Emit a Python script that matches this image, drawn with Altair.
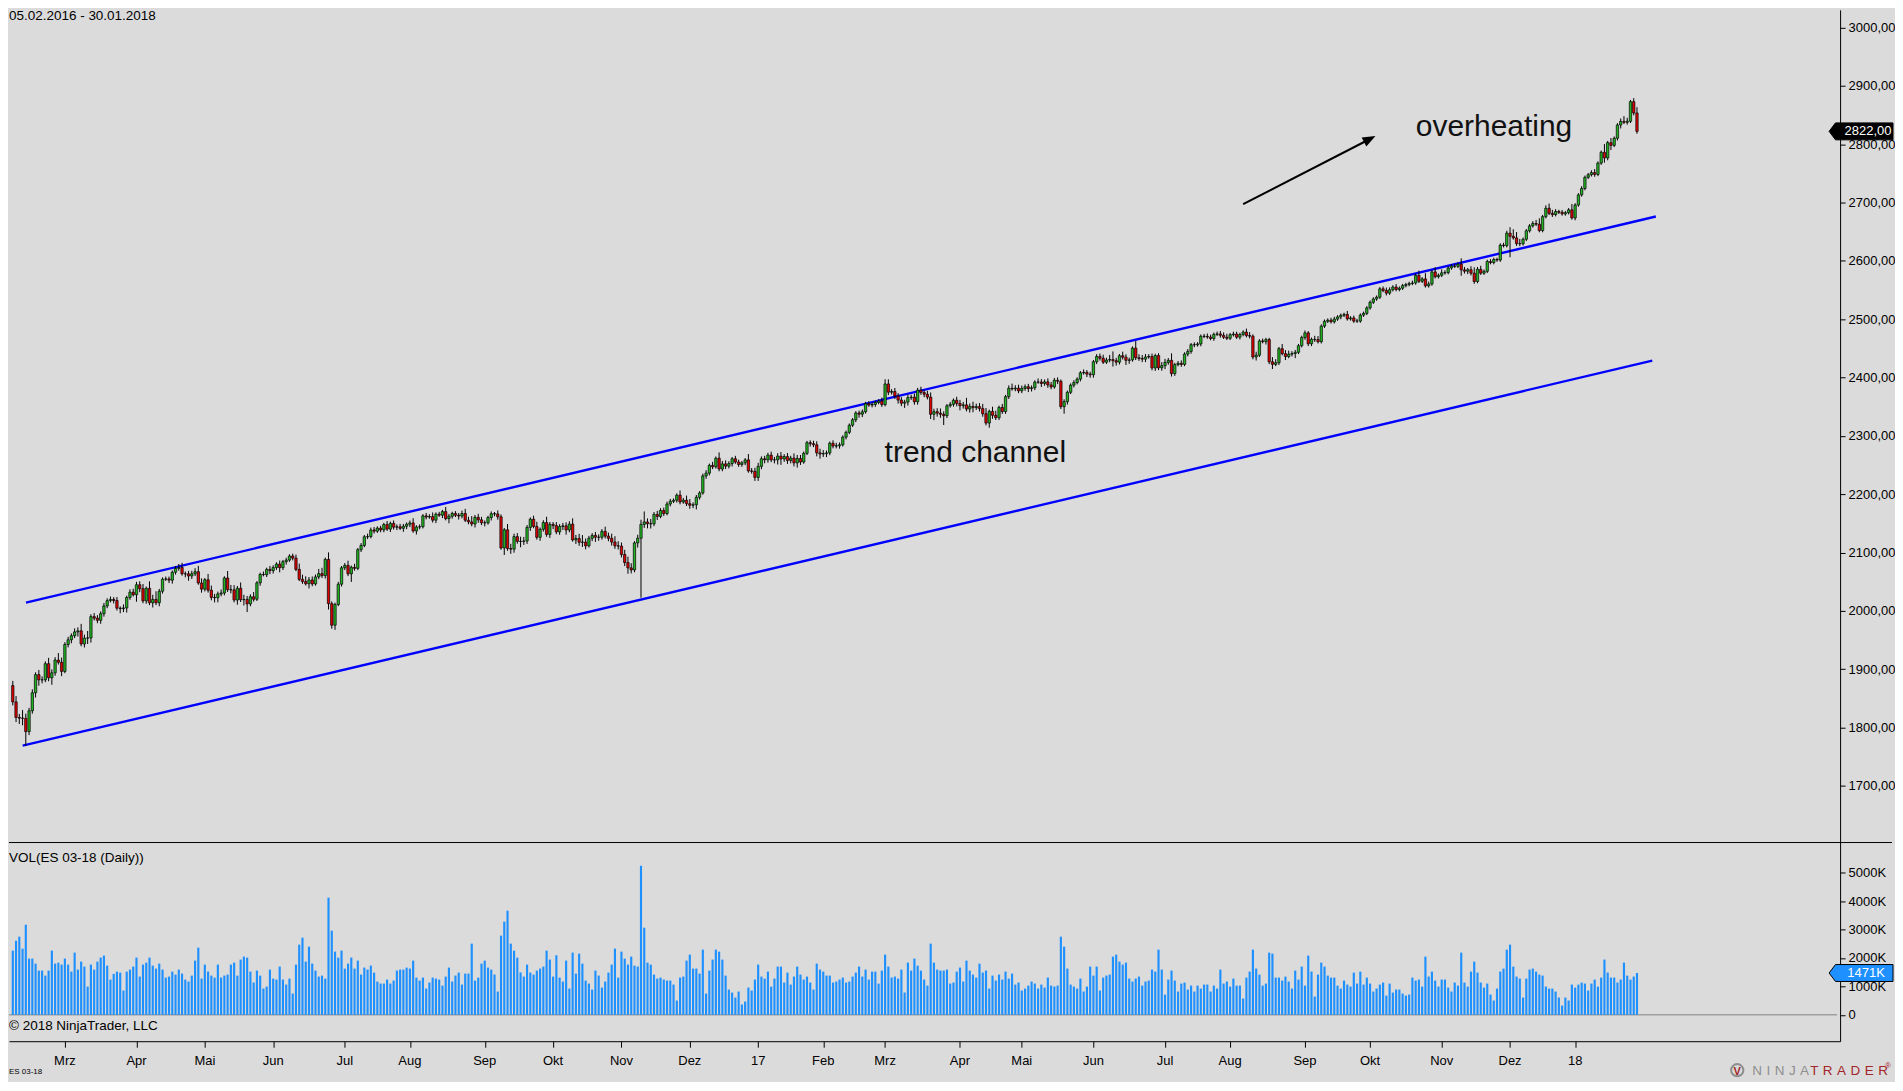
import altair as alt
import pandas as pd

# ---------------- texts ----------------
date_range_text = "05.02.2016 - 30.01.2018"
vol_title = "VOL(ES 03-18 (Daily))"
copyright_text = "\u00a9 2018 NinjaTrader, LLC"
instrument_text = "ES 03-18"
note_hot = "overheating"
note_channel = "trend channel"

# ---------------- x axis (bar index of first session of month) ----------------
month_idx = [16, 38, 59, 80, 102, 122, 145, 166, 187, 208, 229, 249, 268, 291, 310, 332, 354, 374, 397, 417, 439, 460, 480]
month_lbl = ["Mrz", "Apr", "Mai", "Jun", "Jul", "Aug", "Sep", "Okt", "Nov", "Dez", "17", "Feb", "Mrz", "Apr", "Mai", "Jun", "Jul", "Aug", "Sep", "Okt", "Nov", "Dez", "18"]

price_ticks = [1700, 1800, 1900, 2000, 2100, 2200, 2300, 2400, 2500, 2600, 2700, 2800, 2900, 3000]
vol_ticks = [0, 1000, 2000, 3000, 4000, 5000]

# ---------------- daily closes, per month ----------------
first_open = 1872.0
c_2016_02 = [1844.0, 1817.4, 1816.2, 1815.9, 1793.1, 1828.8, 1859.6, 1890.8, 1881.8, 1881.8, 1909.5, 1885.3, 1893.8, 1915.7, 1912.0, 1896.2]
c_2016_03 = [1942.4, 1950.5, 1957.4, 1964.0, 1965.8, 1943.3, 1953.3, 1953.6, 1990.2, 1987.6, 1983.9, 1995.2, 2008.6, 2017.6, 2019.6, 2017.8, 2004.7, 2003.9, 2005.1, 2023.0, 2032.0, 2027.7]
c_2016_04 = [2044.8, 2038.1, 2017.2, 2038.7, 2013.9, 2019.6, 2014.0, 2033.7, 2054.4, 2054.8, 2052.7, 2066.3, 2072.8, 2074.4, 2063.5, 2063.6, 2059.8, 2063.7, 2067.2, 2047.8, 2037.3]
c_2016_05 = [2053.4, 2035.4, 2023.1, 2022.6, 2029.1, 2030.7, 2056.4, 2036.5, 2036.1, 2018.6, 2038.7, 2019.2, 2019.6, 2012.0, 2024.3, 2020.0, 2048.1, 2062.5, 2062.1, 2071.1, 2069.0]
c_2016_06 = [2074.3, 2080.3, 2074.1, 2084.4, 2087.1, 2094.1, 2090.5, 2071.1, 2054.1, 2050.3, 2046.5, 2053.0, 2046.2, 2058.3, 2063.9, 2060.5, 2088.3, 2012.4, 1975.5, 2011.1, 2045.8, 2073.9]
c_2016_07 = [2078.0, 2063.6, 2074.7, 2072.9, 2104.9, 2112.2, 2127.1, 2127.4, 2138.8, 2136.7, 2141.9, 2138.8, 2148.0, 2140.2, 2150.0, 2143.5, 2144.2, 2141.6, 2145.1, 2148.6]
c_2016_08 = [2150.8, 2137.0, 2143.8, 2144.3, 2162.9, 2160.9, 2161.7, 2155.5, 2165.8, 2164.1, 2170.2, 2158.2, 2162.2, 2167.0, 2163.9, 2162.6, 2166.9, 2155.4, 2152.5, 2149.0, 2160.4, 2156.1, 2151.0]
c_2016_09 = [2150.9, 2160.0, 2166.5, 2166.2, 2161.3, 2107.8, 2139.0, 2107.0, 2105.8, 2127.3, 2119.2, 2119.1, 2119.8, 2143.1, 2157.2, 2144.7, 2126.1, 2139.9, 2151.4, 2131.1, 2148.3]
c_2016_10 = [2146.2, 2135.5, 2144.7, 2145.8, 2138.7, 2148.7, 2121.7, 2124.2, 2117.6, 2118.0, 2111.5, 2124.6, 2129.3, 2126.3, 2126.2, 2136.3, 2128.2, 2124.4, 2118.0, 2111.4, 2111.2]
c_2016_11 = [2096.7, 2082.9, 2073.7, 2070.2, 2116.5, 2124.6, 2148.3, 2152.5, 2149.5, 2149.2, 2165.4, 2161.9, 2172.1, 2166.9, 2183.2, 2187.9, 2189.7, 2198.4, 2186.7, 2189.7, 2183.8]
c_2016_12 = [2181.1, 2182.0, 2194.7, 2202.2, 2231.4, 2236.2, 2249.5, 2247.0, 2261.7, 2243.3, 2252.0, 2248.1, 2252.5, 2260.8, 2255.2, 2251.0, 2253.8, 2258.9, 2239.9, 2239.3, 2228.8]
c_2017_01 = [2247.8, 2260.8, 2259.0, 2267.0, 2258.9, 2258.9, 2265.3, 2260.4, 2264.6, 2257.9, 2261.9, 2253.7, 2261.3, 2255.2, 2270.1, 2288.4, 2286.7, 2284.7, 2270.9, 2268.9]
c_2017_02 = [2269.6, 2270.9, 2287.4, 2282.6, 2283.1, 2284.7, 2297.9, 2306.1, 2318.3, 2327.6, 2339.3, 2337.2, 2341.2, 2355.4, 2352.8, 2353.8, 2357.3, 2359.8, 2353.6]
c_2017_03 = [2389.0, 2374.9, 2376.1, 2368.3, 2361.4, 2356.0, 2357.9, 2365.6, 2366.5, 2358.5, 2378.3, 2374.4, 2371.3, 2366.5, 2337.0, 2341.5, 2339.0, 2337.0, 2334.6, 2351.6, 2354.1, 2361.1, 2355.7]
c_2017_04 = [2351.8, 2353.2, 2346.0, 2350.5, 2348.5, 2350.2, 2346.8, 2337.9, 2322.0, 2342.0, 2335.2, 2331.2, 2348.8, 2341.7, 2367.2, 2381.6, 2380.5, 2381.8, 2377.2]
c_2017_05 = [2381.3, 2384.2, 2381.1, 2382.5, 2392.3, 2392.4, 2389.9, 2392.6, 2387.4, 2383.9, 2395.3, 2393.7, 2350.0, 2358.7, 2374.7, 2387.0, 2391.4, 2397.4, 2408.1, 2408.8, 2405.9, 2404.8]
c_2017_06 = [2427.1, 2436.1, 2433.1, 2426.3, 2430.1, 2430.8, 2428.8, 2426.4, 2437.4, 2434.9, 2429.5, 2430.2, 2450.5, 2434.0, 2432.6, 2431.5, 2435.3, 2436.1, 2416.4, 2437.7, 2416.7, 2420.4]
c_2017_07 = [2426.0, 2429.5, 2406.8, 2422.2, 2424.4, 2422.5, 2440.3, 2444.8, 2456.3, 2456.1, 2457.6, 2470.8, 2470.5, 2469.5, 2466.9, 2474.1, 2474.8, 2472.4, 2469.1, 2467.3]
c_2017_08 = [2473.4, 2474.6, 2469.2, 2473.8, 2477.9, 2471.9, 2471.0, 2435.2, 2438.3, 2462.8, 2461.6, 2465.1, 2427.0, 2422.6, 2425.4, 2449.5, 2441.0, 2436.0, 2440.1, 2441.2, 2443.3, 2454.6, 2468.7]
c_2017_09 = [2476.6, 2457.9, 2465.5, 2465.1, 2461.4, 2488.1, 2496.5, 2498.4, 2495.6, 2500.2, 2503.9, 2506.7, 2508.2, 2500.6, 2502.2, 2496.7, 2496.8, 2507.0, 2510.1, 2519.4]
c_2017_10 = [2529.1, 2534.6, 2537.7, 2552.1, 2549.3, 2544.7, 2550.6, 2555.2, 2550.9, 2553.2, 2557.6, 2559.4, 2561.3, 2562.1, 2575.2, 2565.0, 2569.1, 2557.2, 2560.4, 2581.1, 2572.8, 2575.3]
c_2017_11 = [2579.4, 2579.9, 2587.8, 2591.1, 2590.6, 2594.4, 2584.6, 2582.3, 2584.8, 2578.9, 2564.6, 2585.6, 2578.9, 2582.1, 2599.0, 2597.1, 2602.4, 2601.4, 2627.0, 2626.1, 2647.6]
c_2017_12 = [2642.2, 2639.4, 2629.6, 2629.3, 2637.0, 2651.5, 2660.0, 2664.1, 2662.9, 2652.0, 2675.8, 2690.2, 2681.5, 2679.3, 2684.6, 2683.3, 2680.5, 2682.6, 2687.5, 2673.6]
c_2018_01 = [2695.8, 2713.1, 2724.0, 2743.2, 2747.7, 2751.3, 2748.2, 2767.6, 2786.2, 2776.4, 2802.6, 2798.0, 2810.3, 2833.0, 2839.1, 2837.5, 2839.3, 2872.9, 2853.5, 2822.0]

# ---------------- upper wick (points above body), per month ----------------
h_2016_02 = [8, 10, 6, 14, 8, 5, 6, 4, 8, 6, 4, 10, 6, 5, 12, 8]
h_2016_03 = [4, 5, 4, 6, 6, 12, 6, 12, 4, 6, 5, 4, 5, 4, 5, 4, 6, 3, 6, 3, 5, 6]
h_2016_04 = [5, 6, 8, 3, 12, 8, 14, 4, 3, 4, 4, 3, 4, 6, 8, 4, 5, 5, 6, 10, 8]
h_2016_05 = [3, 10, 8, 6, 4, 6, 3, 12, 8, 8, 4, 10, 8, 6, 4, 8, 3, 3, 5, 3, 6]
h_2016_06 = [4, 3, 6, 3, 4, 3, 4, 6, 10, 8, 9, 5, 6, 4, 8, 10, 3, 12, 4, 3, 4, 3]
h_2016_07 = [4, 8, 3, 6, 3, 4, 3, 5, 4, 5, 3, 4, 3, 6, 3, 5, 4, 5, 4, 3]
h_2016_08 = [4, 8, 3, 4, 3, 5, 4, 7, 3, 4, 3, 8, 4, 3, 4, 4, 5, 8, 6, 10, 4, 6, 5]
h_2016_09 = [4, 3, 4, 3, 6, 4, 3, 10, 8, 5, 6, 8, 7, 4, 3, 6, 8, 3, 4, 10, 4]
h_2016_10 = [4, 6, 4, 5, 6, 5, 10, 6, 8, 12, 6, 4, 4, 6, 5, 4, 8, 6, 8, 10, 8]
h_2016_11 = [6, 8, 10, 8, 3, 6, 8, 18, 6, 8, 4, 6, 4, 5, 4, 4, 3, 3, 8, 4, 8]
h_2016_12 = [8, 4, 4, 3, 4, 5, 3, 6, 3, 10, 5, 6, 4, 3, 5, 4, 3, 3, 10, 5, 6]
h_2017_01 = [6, 4, 5, 4, 6, 5, 5, 7, 4, 6, 4, 8, 6, 6, 3, 3, 4, 5, 6, 7]
h_2017_02 = [6, 4, 3, 5, 5, 4, 3, 3, 3, 3, 3, 4, 4, 3, 4, 4, 3, 3, 6]
h_2017_03 = [8, 8, 4, 6, 5, 5, 4, 5, 4, 6, 4, 6, 4, 6, 8, 5, 6, 8, 5, 3, 4, 3, 6]
h_2017_04 = [6, 5, 12, 5, 8, 5, 6, 8, 10, 3, 8, 8, 3, 6, 3, 5, 8, 5, 6]
h_2017_05 = [5, 4, 5, 4, 3, 6, 5, 4, 6, 5, 4, 5, 3, 4, 3, 3, 4, 3, 3, 5, 4, 4]
h_2017_06 = [3, 4, 5, 6, 4, 8, 14, 5, 3, 7, 5, 4, 3, 12, 6, 6, 5, 4, 5, 3, 4, 6]
h_2017_07 = [6, 4, 12, 3, 4, 5, 3, 4, 3, 4, 3, 3, 4, 5, 4, 3, 4, 5, 5, 6]
h_2017_08 = [3, 4, 4, 3, 3, 6, 6, 3, 6, 3, 4, 3, 3, 8, 6, 3, 8, 6, 6, 4, 4, 3, 3]
h_2017_09 = [4, 3, 3, 6, 6, 3, 3, 3, 4, 4, 3, 3, 3, 6, 3, 4, 4, 3, 3, 3]
h_2017_10 = [3, 3, 3, 3, 4, 5, 4, 3, 5, 3, 3, 3, 3, 4, 3, 8, 3, 10, 4, 3, 8, 3]
h_2017_11 = [6, 4, 3, 3, 4, 3, 10, 5, 3, 6, 10, 4, 6, 3, 3, 4, 3, 3, 3, 4, 4]
h_2017_12 = [10, 12, 10, 8, 3, 3, 3, 4, 6, 10, 3, 5, 8, 6, 4, 3, 4, 3, 3, 10]
h_2018_01 = [3, 3, 4, 3, 3, 4, 6, 3, 3, 14, 3, 8, 3, 3, 5, 9, 6, 3, 6, 10]

# ---------------- lower wick (points below body), per month ----------------
l_2016_02 = [6, 8, 10, 12, 24, 6, 5, 8, 10, 6, 4, 6, 12, 5, 4, 8]
l_2016_03 = [3, 5, 6, 4, 8, 4, 6, 10, 8, 4, 5, 6, 5, 4, 3, 5, 4, 8, 6, 8, 4, 3]
l_2016_04 = [12, 6, 4, 5, 4, 8, 4, 6, 4, 3, 5, 6, 4, 4, 3, 6, 8, 5, 4, 3, 6]
l_2016_05 = [4, 4, 5, 8, 8, 4, 4, 4, 6, 4, 8, 4, 10, 14, 4, 4, 3, 5, 3, 4, 6]
l_2016_06 = [5, 4, 8, 4, 5, 3, 4, 3, 3, 4, 3, 8, 4, 3, 4, 4, 5, 10, 6, 8, 3, 4]
l_2016_07 = [4, 4, 14, 4, 3, 4, 3, 4, 3, 4, 3, 4, 4, 3, 5, 4, 5, 3, 6, 5]
l_2016_08 = [5, 3, 6, 4, 3, 4, 3, 4, 5, 3, 5, 3, 8, 4, 3, 6, 4, 3, 4, 4, 6, 5, 4]
l_2016_09 = [6, 3, 5, 4, 5, 3, 12, 4, 8, 6, 4, 10, 6, 5, 6, 3, 4, 6, 4, 4, 6]
l_2016_10 = [6, 4, 5, 6, 8, 4, 3, 7, 6, 8, 6, 3, 5, 8, 6, 4, 4, 5, 6, 5, 6]
l_2016_11 = [5, 6, 10, 6, 4, 8, 102, 6, 8, 8, 4, 6, 3, 4, 3, 4, 3, 4, 4, 3, 4]
l_2016_12 = [6, 5, 8, 4, 3, 5, 4, 4, 3, 4, 4, 5, 4, 5, 3, 4, 4, 4, 3, 4, 6]
l_2017_01 = [6, 5, 6, 5, 4, 6, 8, 10, 5, 6, 5, 6, 8, 5, 3, 3, 5, 4, 6, 8]
l_2017_02 = [5, 6, 4, 4, 4, 5, 3, 4, 3, 3, 4, 6, 5, 3, 3, 4, 4, 3, 4]
l_2017_03 = [3, 5, 4, 5, 6, 5, 8, 6, 4, 5, 5, 4, 5, 4, 8, 10, 6, 6, 16, 4, 3, 4, 5]
l_2017_04 = [8, 5, 4, 6, 8, 4, 5, 5, 4, 8, 6, 4, 4, 4, 4, 4, 3, 4, 4]
l_2017_05 = [4, 4, 6, 5, 4, 3, 6, 4, 5, 4, 3, 5, 4, 12, 5, 3, 4, 3, 4, 3, 5, 5]
l_2017_06 = [5, 4, 4, 3, 3, 4, 10, 6, 4, 4, 8, 6, 3, 4, 4, 5, 5, 3, 4, 5, 4, 5]
l_2017_07 = [6, 4, 5, 4, 3, 4, 3, 4, 4, 4, 3, 4, 3, 3, 3, 4, 3, 4, 3, 3]
l_2017_08 = [3, 3, 3, 4, 3, 3, 4, 4, 6, 3, 3, 5, 4, 8, 3, 4, 3, 6, 3, 4, 8, 3, 3]
l_2017_09 = [4, 4, 4, 4, 3, 3, 3, 3, 3, 3, 3, 4, 3, 3, 3, 3, 3, 3, 3, 3]
l_2017_10 = [3, 3, 3, 3, 3, 4, 3, 3, 3, 3, 3, 3, 3, 3, 3, 3, 3, 3, 3, 3, 3, 3]
l_2017_11 = [3, 3, 3, 3, 3, 3, 10, 4, 5, 4, 4, 3, 3, 3, 3, 3, 3, 3, 3, 3, 3]
l_2017_12 = [36, 3, 4, 4, 3, 3, 3, 3, 3, 3, 3, 3, 3, 4, 3, 3, 3, 3, 3, 3]
l_2018_01 = [4, 3, 3, 3, 3, 3, 4, 3, 3, 8, 4, 8, 3, 4, 6, 3, 4, 3, 4, 4]

# ---------------- volume (thousands of contracts) ----------------
vol_a = [2257, 2608, 2748, 2327, 3170, 1977, 1977, 1801, 1556, 1556,
         1380, 1556, 2257, 1801, 1836, 1766, 1977, 1766, 1520, 2187,
         1591, 1871, 1696, 994, 1766, 1591, 1871, 2012, 2082, 1731,
         1240, 1439, 1520, 1485, 854, 1520, 1591, 1696, 2012, 1345,
         1766, 1836, 2012, 1731, 1626, 1801, 1591, 1310, 1345, 1520,
         1415, 1591, 1450, 1240, 1170, 1380, 1906, 2362, 1275, 1766,
         1520, 1380, 1310, 1766, 1310, 1380, 1415, 1766, 1836, 1380,
         1942, 2047, 2012, 1520, 1135, 1556, 1380, 924, 994, 1591,
         1275, 1240, 1696, 1240, 1064, 1275, 749, 1766, 2468, 2713,
         1871, 2398, 1801, 1556, 1345, 1380, 1275, 4117, 2959, 2222,
         2012, 2257, 1626, 1801, 2012, 1626, 1906, 1415, 1661, 1591,
         1731, 1485, 1170, 1099, 1099, 1240, 1099, 1205, 1556, 1591,
         1591, 1661, 1626, 1906, 1310, 1205, 1310, 924, 1135, 1310,
         1275, 1240, 1029, 1345, 1661, 1170, 1380, 1485, 1064, 1450,
         1450, 2503, 1205, 1310, 1801, 1906, 1661, 1591, 1415, 819,
         2784, 3275, 3661, 2503, 2257, 2012, 1485, 1345, 1766, 1485,
         1415, 1556, 1626, 1696, 2257, 1942]
vol_b = [1345, 2094, 1310, 1170, 1906, 924, 2187, 1450, 2152, 1801,
         1205, 1099, 889, 1556, 1380, 959, 1170, 1485, 1766, 2327,
         1310, 2222, 1977, 1766, 2047, 1731, 1696, 5240, 3064, 1836,
         1766, 1415, 1275, 1310, 1240, 1205, 1205, 1064, 503, 1310,
         1345, 1906, 2117, 1626, 1626, 1450, 2292, 749, 1556, 1942,
         2292, 2222, 1942, 1380, 889, 784, 608, 819, 363, 468,
         959, 854, 1240, 1766, 1345, 1275, 1520, 994, 1275, 1696,
         1696, 1135, 1485, 1064, 1345, 1696, 1415, 1240, 1345, 1135,
         889, 1801, 1591, 1520, 1380, 1380, 1135, 1170, 1240, 1310,
         1135, 1170, 1345, 1485, 1696, 1345, 1591, 1240, 1520, 1520,
         1099, 1556, 2117, 1696, 1310, 1345, 1275, 1591, 784, 1836,
         1556, 1977, 1731, 1556, 1240, 1029, 2503, 1836, 1591, 1556,
         1556, 1591, 1099, 1135, 1520, 1661, 1170, 1906, 1556, 1415,
         1310, 1801, 1485, 1556, 924, 1380, 1205, 1415, 1240, 1520,
         1275, 1450, 1064, 1135, 854, 924, 1029, 1170, 1099, 924,
         1064, 959, 1310, 1029, 994, 1029, 2748, 2398, 1626, 1064,
         994, 924, 1275, 819, 994, 1696, 1380, 1696]
vol_c = [854, 1310, 1380, 1415, 2047, 2117, 1871, 1766, 1836, 1275,
         1170, 1275, 1345, 1029, 1170, 1205, 1591, 1520, 2292, 1591,
         713, 1240, 1556, 1205, 819, 1099, 1135, 889, 1029, 819,
         1029, 924, 1064, 1064, 819, 1029, 924, 1591, 1099, 1170,
         994, 1275, 1029, 1029, 573, 1310, 1520, 2292, 1626, 1415,
         1029, 1099, 2187, 2152, 1310, 1310, 1205, 1345, 1170, 924,
         1556, 1240, 1696, 1029, 2082, 1520, 643, 1415, 1836, 1696,
         1380, 1310, 1310, 1029, 924, 1205, 1064, 994, 1485, 1099,
         1520, 1064, 1310, 1099, 819, 924, 1064, 1135, 678, 1099,
         784, 889, 889, 749, 678, 713, 1310, 1205, 1240, 994,
         2047, 1345, 1520, 1205, 994, 1240, 1240, 959, 819, 1135,
         1029, 2187, 1135, 994, 1520, 1871, 1485, 1135, 959, 1099,
         713, 503, 924, 1520, 1626, 2292, 2468, 1696, 1345, 1275,
         608, 1275, 1591, 1626, 1520, 1415, 1380, 994, 924, 924,
         819, 608, 327, 608, 503, 1064, 959, 1064, 1135, 1099,
         854, 1099, 1240, 994, 1310, 1942, 1485, 1310, 1310, 1135,
         1240, 1836, 1380, 1240, 1345, 1471]

# ---------------- drawn objects (index, price) ----------------
upper_idx = [4.05, 504.8]
upper_price = [2014.2, 2676.0]
lower_idx = [3.04, 503.7]
lower_price = [1769.0, 2429.1]
arrow_idx = [378.0, 416.8]
arrow_price = [2697.1, 2808.5]

# ---------------- assemble ----------------
close_months = [c_2016_02, c_2016_03, c_2016_04, c_2016_05, c_2016_06, c_2016_07, c_2016_08, c_2016_09,
                c_2016_10, c_2016_11, c_2016_12, c_2017_01, c_2017_02, c_2017_03, c_2017_04, c_2017_05,
                c_2017_06, c_2017_07, c_2017_08, c_2017_09, c_2017_10, c_2017_11, c_2017_12, c_2018_01]
hi_months = [h_2016_02, h_2016_03, h_2016_04, h_2016_05, h_2016_06, h_2016_07, h_2016_08, h_2016_09,
             h_2016_10, h_2016_11, h_2016_12, h_2017_01, h_2017_02, h_2017_03, h_2017_04, h_2017_05,
             h_2017_06, h_2017_07, h_2017_08, h_2017_09, h_2017_10, h_2017_11, h_2017_12, h_2018_01]
lo_months = [l_2016_02, l_2016_03, l_2016_04, l_2016_05, l_2016_06, l_2016_07, l_2016_08, l_2016_09,
             l_2016_10, l_2016_11, l_2016_12, l_2017_01, l_2017_02, l_2017_03, l_2017_04, l_2017_05,
             l_2017_06, l_2017_07, l_2017_08, l_2017_09, l_2017_10, l_2017_11, l_2017_12, l_2018_01]
bad = [(k, len(a), len(b), len(c)) for k, (a, b, c) in enumerate(zip(close_months, hi_months, lo_months))
       if not (len(a) == len(b) == len(c))]
if bad:
    raise ValueError("month length mismatch %r" % bad)

closes = [v for m in close_months for v in m]
wick_hi = [v for m in hi_months for v in m]
wick_lo = [v for m in lo_months for v in m]
volume = vol_a + vol_b + vol_c
if len(volume) != len(closes):
    raise ValueError("lengths closes=%d volume=%d" % (len(closes), len(volume)))

opens = [first_open] + closes[:-1]
rows = []
for i, (o, c) in enumerate(zip(opens, closes)):
    rows.append(dict(i=i, open=o, close=c,
                     high=max(o, c) + wick_hi[i], low=min(o, c) - wick_lo[i],
                     dir="up" if c >= o else "down",
                     x0=i - 0.36, x1=i + 0.36, v0=i - 0.33, v1=i + 0.33,
                     vol=volume[i], zero=0))
df = pd.DataFrame(rows)

trend_df = pd.DataFrame({
    "idx": upper_idx + lower_idx,
    "price": upper_price + lower_price,
    "line": ["upper", "upper", "lower", "lower"],
})
arrow_df = pd.DataFrame({"idx": arrow_idx, "price": arrow_price})
arrow_head_df = pd.DataFrame({"idx": [arrow_idx[-1]], "price": [arrow_price[-1]]})
months_df = pd.DataFrame({"idx": month_idx, "lbl": month_lbl})

last_close_lbl = ("%.2f" % closes[-1]).replace(".", ",")
last_vol_lbl = "%dK" % volume[-1]
price_badge_df = pd.DataFrame({"v": [closes[-1]], "lbl": [last_close_lbl]})
vol_badge_df = pd.DataFrame({"v": [volume[-1]], "lbl": [last_vol_lbl]})

# ---------------- styling ----------------
BG = "#DBDBDB"
GREEN = "#22B522"
RED = "#E00000"
BLUE = "#0000FF"
VOLBLUE = "#1E90FF"
FONT = "Liberation Sans"

W = 1834
HP = 834
HV = 199

xs = alt.Scale(domain=[-1.1656, 561.4], nice=False, zero=False)
ps = alt.Scale(domain=[1602.95, 3030.29], nice=False, zero=False)
vs = alt.Scale(domain=[-926, 6056], nice=False, zero=False)

p_axis = alt.Axis(orient="right", values=price_ticks, title=None, grid=False,
                  labelExpr="replace(format(datum.value, '.2f'), '.', ',')",
                  domainColor="black", tickColor="black", tickSize=5,
                  labelFont=FONT, labelFontSize=13, labelColor="black",
                  labelPadding=3, labelOverlap=False, labelFlush=False)
v_axis = alt.Axis(orient="right", values=vol_ticks, title=None, grid=False,
                  labelExpr="datum.value == 0 ? '0' : datum.value + 'K'",
                  domainColor="black", tickColor="black", tickSize=5,
                  labelFont=FONT, labelFontSize=13, labelColor="black",
                  labelPadding=3, labelOverlap=False, labelFlush=False)
x_axis_vol = alt.Axis(values=month_idx, labels=False, title=None, grid=False,
                      domainColor="black", tickColor="black", tickSize=6)

# ---------------- price panel ----------------
trend = alt.Chart(trend_df).mark_line(color=BLUE, strokeWidth=2.4).encode(
    x=alt.X("idx:Q", scale=xs, axis=None),
    y=alt.Y("price:Q", scale=ps, axis=p_axis),
    detail="line:N",
)
wicks = alt.Chart(df).mark_rule(color="black", strokeWidth=1).encode(
    x=alt.X("i:Q", scale=xs, axis=None),
    y=alt.Y("low:Q", scale=ps, axis=p_axis),
    y2="high:Q",
)
bodies = alt.Chart(df).mark_rect(stroke="black", strokeWidth=0.7).encode(
    x=alt.X("x0:Q", scale=xs, axis=None),
    x2="x1:Q",
    y=alt.Y("open:Q", scale=ps, axis=p_axis),
    y2="close:Q",
    color=alt.Color("dir:N", scale=alt.Scale(domain=["up", "down"], range=[GREEN, RED]), legend=None),
)
arrow_line = alt.Chart(arrow_df).mark_line(color="black", strokeWidth=2).encode(
    x=alt.X("idx:Q", scale=xs, axis=None),
    y=alt.Y("price:Q", scale=ps, axis=p_axis),
)
arrow_head = alt.Chart(arrow_head_df).mark_point(
    shape="M0,-1L0.75,0.9L-0.75,0.9Z", size=185, angle=62.7,
    filled=True, color="black", opacity=1,
).encode(
    x=alt.X("idx:Q", scale=xs, axis=None),
    y=alt.Y("price:Q", scale=ps, axis=p_axis),
)


def label(text, px, py, size, color="black", align="left", baseline="alphabetic", font=FONT, weight="normal"):
    return alt.Chart(pd.DataFrame({"t": [text]})).mark_text(
        align=align, baseline=baseline, font=font, fontSize=size, color=color, fontWeight=weight,
    ).encode(x=alt.value(px), y=alt.value(py), text="t:N")


date_txt = label(date_range_text, 0, 10, 13.5)
hot_txt = label(note_hot, 1409, 126, 30, color="#111111")
chan_txt = label(note_channel, 877, 453, 30, color="#111111")

sep_rule = alt.Chart(pd.DataFrame({"a": [0]})).mark_rule(color="black", strokeWidth=1).encode(
    x=alt.value(0), x2=alt.value(1886), y=alt.value(HP),
)

badge_shape = "M-1,0L-0.8,-0.265L1,-0.265L1,0.265L-0.8,0.265Z"
price_badge = alt.Chart(price_badge_df).mark_point(
    shape=badge_shape, size=4096, filled=True, fill="black", stroke="black", strokeWidth=1, opacity=1,
).encode(x=alt.value(1855), y=alt.Y("v:Q", scale=ps, axis=p_axis))
price_badge_txt = alt.Chart(price_badge_df).mark_text(
    align="center", baseline="middle", font=FONT, fontSize=13, color="white",
).encode(x=alt.value(1862), y=alt.Y("v:Q", scale=ps, axis=p_axis), text="lbl:N")

price = alt.layer(
    trend, wicks, bodies, arrow_line, arrow_head, date_txt, hot_txt, chan_txt,
    sep_rule, price_badge, price_badge_txt,
).properties(width=W, height=HP)

# ---------------- volume panel ----------------
zero_rule = alt.Chart(pd.DataFrame({"z": [0]})).mark_rule(color="#A0A0A0", strokeWidth=1.5).encode(
    x=alt.value(0), x2=alt.value(1831), y=alt.Y("z:Q", scale=vs, axis=v_axis),
)
vbars = alt.Chart(df).mark_rect(color=VOLBLUE).encode(
    x=alt.X("v0:Q", scale=xs, axis=x_axis_vol),
    x2="v1:Q",
    y=alt.Y("vol:Q", scale=vs, axis=v_axis),
    y2="zero:Q",
)
month_txt = alt.Chart(months_df).mark_text(
    align="center", baseline="middle", font=FONT, fontSize=13, color="black",
).encode(x=alt.X("idx:Q", scale=xs, axis=x_axis_vol), y=alt.value(219), text="lbl:N")

vol_txt = label(vol_title, 0, 20, 13.5)
copy_txt = label(copyright_text, 0, 188, 13.5)
instr_txt = label(instrument_text, 0, 232, 8)
ninja_txt = label("N\u2004I\u2004N\u2004J\u2004A", 1746, 233, 13.5, color="#8E8E8E")
trader_txt = label("T\u2004R\u2004A\u2004D\u2004E\u2004R", 1804, 233, 13.5, color="#A3262A")
reg_txt = label("\u00ae", 1879, 226, 8, color="#A3262A")
logo_ring = alt.Chart(pd.DataFrame({"a": [0]})).mark_point(
    shape="circle", size=150, filled=False, stroke="#8E8E8E", strokeWidth=2, opacity=1,
).encode(x=alt.value(1731), y=alt.value(228))
logo_v = label("V", 1731, 232.5, 11, color="#A3262A", align="center", weight="bold")

vol_badge = alt.Chart(vol_badge_df).mark_point(
    shape=badge_shape, size=4096, filled=True, fill=VOLBLUE, stroke="black", strokeWidth=1, opacity=1,
).encode(x=alt.value(1855), y=alt.Y("v:Q", scale=vs, axis=v_axis))
vol_badge_txt = alt.Chart(vol_badge_df).mark_text(
    align="center", baseline="middle", font=FONT, fontSize=13, color="white",
).encode(x=alt.value(1860), y=alt.Y("v:Q", scale=vs, axis=v_axis), text="lbl:N")

volume_panel = alt.layer(
    zero_rule, vbars, month_txt, vol_txt, copy_txt, instr_txt,
    logo_ring, logo_v, ninja_txt, trader_txt, reg_txt, vol_badge, vol_badge_txt,
).properties(width=W, height=HV)

chart = alt.vconcat(price, volume_panel, spacing=0, bounds="flush").properties(
    padding=0, background=BG,
).configure_view(stroke=None).configure_axis(grid=False)

chart.save("out.html", embed_options={"renderer": "svg", "actions": False})
